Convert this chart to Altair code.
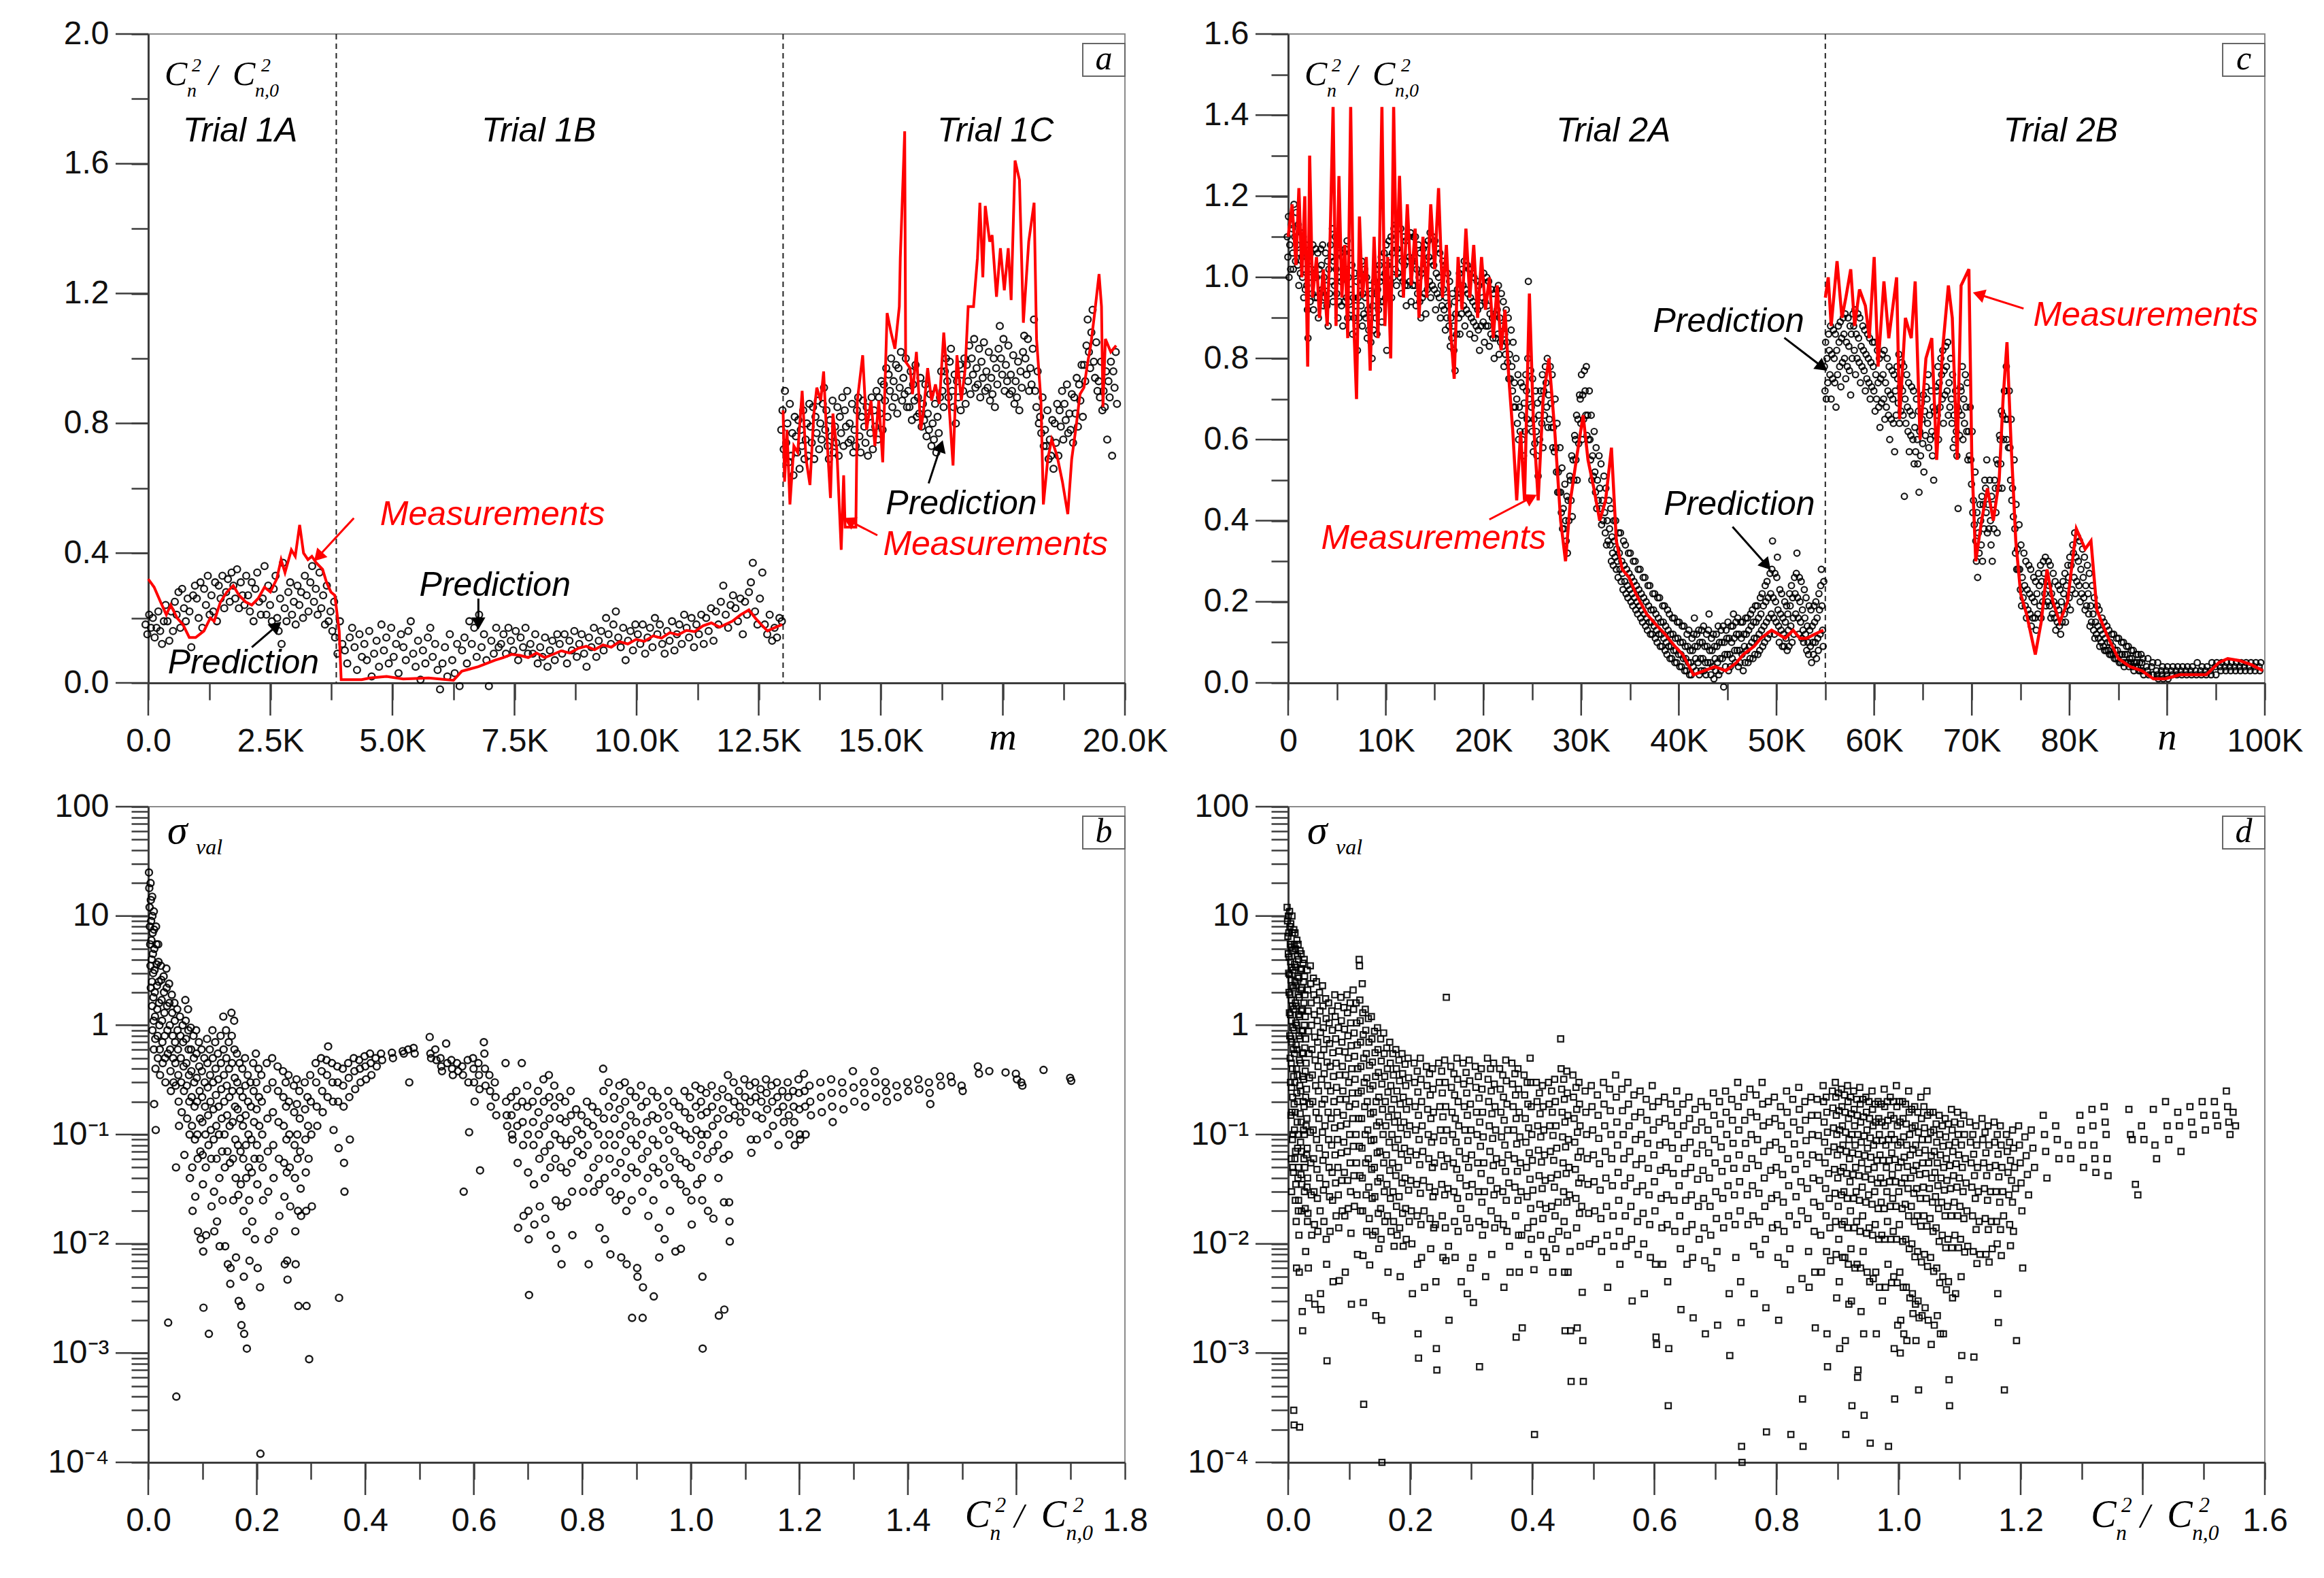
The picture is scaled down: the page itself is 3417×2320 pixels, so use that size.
import math
import pandas as pd
import altair as alt

# ---------------- panel a: Trial 1A / 1B / 1C (m = sample index) ----------------
meas_1ab = [(0, .32), (120, .295), (250, .25), (370, .21), (460, .24), (590, .20), (710, .18),
            (840, .14), (970, .14), (1140, .16), (1270, .20), (1350, .19), (1480, .25), (1610, .28),
            (1740, .30), (1860, .27), (1990, .25), (2120, .24), (2250, .26), (2380, .295), (2500, .28),
            (2630, .32), (2720, .38), (2800, .34), (2930, .41), (3010, .39), (3100, .487), (3180, .40),
            (3270, .38), (3350, .39), (3440, .37), (3570, .35), (3650, .31), (3740, .28), (3820, .27),
            (3910, .16), (3950, .01), (4370, .01), (4540, .015), (4880, .02), (5220, .012), (5740, .015),
            (6250, .008), (6420, .036), (6590, .043), (6760, .05), (6930, .06), (7100, .07), (7270, .078),
            (7440, .088), (7610, .085), (7780, .078), (7950, .092), (8120, .078), (8290, .088), (8460, .099),
            (8630, .092), (8800, .106), (8970, .113), (9140, .102), (9310, .117), (9480, .11), (9650, .127),
            (9820, .12), (9990, .134), (10160, .128), (10340, .145), (10510, .138), (10680, .155),
            (10850, .148), (11020, .162), (11190, .158), (11360, .176), (11530, .185), (11700, .172),
            (11960, .19), (12130, .21), (12300, .225), (12430, .20), (12550, .18), (12680, .16),
            (12810, .169), (12980, .18)]
meas_1c = [(13000, .84), (13030, .62), (13080, .78), (13140, .55), (13220, .73), (13300, .71), (13390, .90),
           (13470, .69), (13550, .61), (13630, .83), (13690, .91), (13770, .87), (13830, .96), (13880, .80),
           (13970, .57), (14020, .83), (14100, .72), (14190, .41), (14240, .64), (14270, .48), (14490, .48),
           (14520, .87), (14630, 1.01), (14710, .78), (14800, .87), (14880, .73), (14960, .87), (15040, .68),
           (15130, 1.14), (15210, 1.08), (15290, 1.03), (15380, 1.16), (15400, 1.31), (15490, 1.70),
           (15510, .99), (15600, .97), (15650, .89), (15730, 1.02), (15820, .78), (15870, .83), (15960, .97),
           (16040, .87), (16120, .92), (16200, .86), (16290, 1.08), (16370, .92), (16480, .67), (16560, 1.01),
           (16650, .87), (16730, .97), (16790, 1.16), (16900, 1.16), (16980, 1.31), (17030, 1.48),
           (17090, 1.25), (17140, 1.47), (17230, 1.36), (17280, 1.38), (17370, 1.19), (17450, 1.34),
           (17530, 1.21), (17610, 1.34), (17670, 1.18), (17750, 1.61), (17840, 1.55), (17920, 1.11),
           (18030, 1.36), (18140, 1.48), (18190, 1.06), (18280, .87), (18330, .55), (18420, .69), (18500, .75),
           (18610, .70), (18720, .62), (18830, .52), (18910, .69), (19000, .79), (19080, .89), (19160, .91),
           (19240, .99), (19300, 1.04), (19380, 1.14), (19470, 1.26), (19520, 1.16), (19550, .85),
           (19600, 1.06), (19710, 1.02), (19820, 1.04)]
pred_1a = [(0, [.18, .15, .21, .17]), (150, [.20, .14, .17, .22]), (300, [.16, .12, .19, .24]),
           (450, [.19, .13, .22, .16]), (600, [.25, .21, .28, .17]), (750, [.29, .23, .19, .26]),
           (900, [.22, .11, .27, .30]), (1050, [.26, .20, .31, .17]), (1200, [.29, .24, .33, .21]),
           (1350, [.27, .22, .31, .19]), (1500, [.30, .26, .33, .23]), (1650, [.28, .32, .25, .34]),
           (1800, [.30, .26, .35, .23]), (1950, [.31, .27, .24, .33]), (2100, [.27, .22, .31, .19]),
           (2250, [.29, .34, .25, .21]), (2400, [.26, .36, .21, .30]), (2550, [.24, .19, .29, .33]),
           (2700, [.20, .16, .26, .12, .37]), (2850, [.23, .19, .28, .31]), (3000, [.21, .25, .18, .30]),
           (3150, [.24, .28, .20, .33]), (3300, [.27, .22, .31, .36]), (3450, [.25, .29, .21, .34]),
           (3600, [.23, .27, .18, .30]), (3750, [.19, .22, .16, .25])]
pred_1b = [(3900, [.14, .09, .19, .12]), (4100, [.10, .06, .14, .17]), (4300, [.11, .04, .15, .08]),
           (4500, [.12, .07, .16, .02]), (4700, [.09, .13, .05, .18]), (4900, [.10, .14, .06, .17]),
           (5100, [.08, .12, .03, .15]), (5300, [.11, .07, .16, .19]), (5500, [.09, .05, .13, .01]),
           (5700, [.10, .06, .14, .17]), (5900, [.08, .12, .04, -.02]), (6100, [.06, .11, .02, .15]),
           (6300, [.07, .03, .12, -.01]), (6500, [.10, .14, .06, .19]), (6700, [.12, .17, .08, .21]),
           (6900, [.11, .15, .07, -.01]), (7100, [.13, .09, .17, .11]), (7300, [.12, .15, .09, .17]),
           (7500, [.13, .10, .16, .07]), (7700, [.14, .11, .17, .09]), (7900, [.12, .09, .15, .06]),
           (8100, [.11, .08, .14, .05]), (8300, [.10, .13, .07, .15]), (8500, [.12, .09, .15, .06]),
           (8700, [.13, .10, .16, .08]), (8900, [.12, .15, .09, .05]), (9100, [.14, .11, .17, .08]),
           (9300, [.13, .16, .10, .20]), (9500, [.15, .12, .18, .22]), (9700, [.14, .11, .17, .07]),
           (9900, [.13, .16, .10, .18]), (10100, [.15, .12, .18, .09]), (10300, [.14, .17, .11, .20]),
           (10500, [.15, .18, .12, .09]), (10700, [.16, .13, .19, .10]), (10900, [.15, .18, .12, .21]),
           (11100, [.17, .14, .20, .11]), (11300, [.18, .15, .21, .12]), (11500, [.20, .16, .23, .13]),
           (11700, [.22, .18, .25, .30]), (11900, [.21, .17, .24, .27]), (12100, [.23, .19, .26, .15]),
           (12300, [.25, .21, .28, .31, .37]), (12500, [.22, .18, .26, .34]), (12700, [.18, .15, .21, .13]),
           (12900, [.17, .14, .20, .19])]
pred_1c = [(13000, [.78, .84, .72, .90]), (13100, [.74, .80, .68, .86]), (13200, [.70, .77, .64, .82]),
           (13300, [.76, .71, .81, .66]), (13400, [.78, .73, .84, .69]), (13500, [.75, .80, .70, .86]),
           (13600, [.79, .74, .85, .69]), (13700, [.82, .77, .87, .72]), (13800, [.80, .75, .86, .91]),
           (13900, [.78, .84, .73, .69]), (14000, [.81, .76, .87, .71]), (14100, [.79, .74, .85, .70]),
           (14200, [.82, .77, .88, .73]), (14300, [.84, .79, .90, .74]), (14400, [.80, .75, .86, .71]),
           (14500, [.78, .73, .84, .88]), (14600, [.76, .71, .82, .87]), (14700, [.79, .74, .85, .70]),
           (14800, [.82, .77, .88, .72]), (14900, [.84, .79, .90, .75]), (15000, [.88, .83, .93, .78]),
           (15100, [.92, .87, .97, .82]), (15200, [.95, .90, 1.00, .85]), (15300, [.93, .88, .98, .83]),
           (15400, [.97, .91, 1.02, .87]), (15500, [.94, .89, 1.00, .85]), (15600, [.90, .85, .96, .81]),
           (15700, [.92, .87, .98, .82]), (15800, [.88, .83, .94, .79]), (15900, [.86, .81, .92, .76]),
           (16000, [.83, .78, .89, .73]), (16100, [.80, .75, .86, .71]), (16200, [.82, .77, .88, .96]),
           (16300, [.90, .85, .96, 1.00]), (16400, [.93, .88, .99, 1.03]), (16500, [.90, .85, .95, .80]),
           (16600, [.93, .88, .98, .84]), (16700, [.95, .90, 1.00, .86]), (16800, [.98, .93, 1.04, .89]),
           (16900, [1.00, .95, 1.06, .91]), (17000, [.97, .92, 1.03, .88]), (17100, [.99, .94, 1.05, .90]),
           (17200, [.96, .91, 1.02, .87]), (17300, [.94, .89, 1.00, .85]), (17400, [.97, .92, 1.03, 1.10]),
           (17500, [1.00, .95, 1.06, .90]), (17600, [.98, .93, 1.04, .89]), (17700, [.95, .90, 1.01, .86]),
           (17800, [.93, .88, .99, .84]), (17900, [.96, .91, 1.02, 1.07]), (18000, [1.00, .95, 1.06, .90]),
           (18100, [.97, .92, 1.03, 1.12]), (18200, [.90, .85, .96, .80]), (18300, [.82, .77, .88, .73]),
           (18400, [.78, .73, .84, .69]), (18500, [.75, .70, .81, .66]), (18600, [.80, .74, .86, .70]),
           (18700, [.84, .79, .90, .75]), (18800, [.86, .81, .92, .77]), (18900, [.83, .78, .89, .74]),
           (19000, [.88, .83, .94, .79]), (19100, [.92, .87, .98, .82]), (19200, [.98, .93, 1.04, 1.12]),
           (19300, [1.02, .97, 1.08, 1.15]), (19400, [.99, .94, 1.05, .90]), (19500, [.93, .88, .99, .84]),
           (19600, [.90, .85, .96, .75]), (19700, [.93, .88, .99, .70]), (19800, [.96, .91, 1.02, .86])]
trial1_edges = [3850, 13000]

# ---------------- panel c: Trial 2A / 2B (n = sample index) ----------------
meas_2a = [(0, 1.10), (400, 1.18), (800, 1.03), (1100, 1.22), (1400, 1.00), (1700, 1.20), (2000, .78),
           (2200, 1.30), (2500, .95), (2900, 1.05), (3200, .90), (3600, 1.02), (4000, .88), (4300, 1.10),
           (4600, 1.42), (4900, .88), (5200, 1.25), (5500, .95), (5800, 1.08), (6100, .85), (6400, 1.42),
           (6700, .90), (7000, .70), (7300, 1.15), (7600, .95), (8000, 1.05), (8400, .77), (8800, 1.10),
           (9200, .85), (9600, 1.42), (9900, .88), (10200, 1.05), (10500, .80), (10800, 1.42), (11100, 1.00),
           (11400, 1.25), (11800, .95), (12200, 1.18), (12600, .98), (13000, 1.12), (13400, .90),
           (13800, 1.10), (14200, .95), (14600, 1.18), (15000, 1.02), (15400, 1.22), (15800, .95),
           (16200, 1.08), (16600, .88), (17000, .75), (17400, 1.05), (17800, .92), (18200, 1.12),
           (18600, .95), (19000, 1.08), (19400, .90), (19800, 1.05), (20200, .92), (20600, 1.00),
           (21000, .85), (21400, .98), (21800, .82), (22200, .92), (22600, .75), (23000, .62), (23400, .45),
           (23800, .62), (24200, .45), (24700, .96), (25100, .65), (25600, .45), (26100, .70), (26700, .80),
           (27300, .62), (27900, .40), (28400, .30), (28900, .45), (29500, .55), (30200, .66), (30700, .55),
           (31300, .48), (31900, .40), (32500, .45), (33100, .58), (33600, .35), (34200, .28), (34900, .26),
           (35600, .22), (36700, .17), (37800, .14), (38600, .12), (39600, .09), (40400, .07), (41500, .02),
           (42600, .03), (43700, .04), (44800, .03), (45900, .05), (46600, .07), (47700, .09), (48400, .11),
           (49500, .13), (50200, .12), (50900, .11), (51700, .13), (52400, .11), (53100, .11), (53900, .12),
           (54800, .13)]
meas_2b = [(55000, .95), (55300, 1.00), (55600, .88), (56200, 1.04), (56700, .90), (57100, .95),
           (57600, 1.02), (58000, .88), (58500, .97), (59100, .93), (59500, .85), (60000, 1.05), (60400, .78),
           (61000, .99), (61500, .85), (62300, 1.00), (62600, .65), (63200, .90), (63800, .85), (64200, .99),
           (64700, .60), (65300, .80), (65900, .85), (66400, .55), (67000, .82), (67600, .98), (68000, .90),
           (68500, .55), (68900, .98), (69700, 1.02), (70000, .55), (70400, .30), (71000, .40), (71600, .48),
           (72200, .40), (72800, .50), (73200, .70), (73600, .84), (74000, .60), (74500, .35), (75000, .22),
           (75600, .17), (76500, .07), (77100, .15), (77700, .28), (78300, .20), (79000, .15), (79800, .20),
           (80700, .38), (81600, .33), (82200, .35), (82800, .18), (83800, .12), (85000, .06), (86200, .04),
           (87400, .03), (88600, .01), (89800, .01), (91300, .02), (92800, .02), (94000, .02), (95300, .05),
           (96200, .06), (97400, .055), (98600, .045), (99800, .03)]
pred_2a = [(0, [1.10, 1.05, 1.15, 1.00]), (500, [1.12, 1.06, 1.02, 1.18]), (1000, [1.08, 1.03, 1.13, .98]),
           (1500, [1.05, 1.00, 1.10, .95]), (2000, [.98, .92, .85, 1.04]), (2500, [1.02, .96, 1.08, .92]),
           (3000, [1.00, .95, 1.06, .90]), (3500, [1.03, .97, 1.08, .93]), (4000, [.98, .93, 1.04, .88]),
           (4500, [1.05, .99, 1.12, .94]), (5000, [1.02, .96, 1.08, .90]), (5500, [.99, .93, 1.05, .88]),
           (6000, [1.02, .95, 1.09, .90]), (6500, [.97, .92, 1.03, .86]), (7000, [.93, .88, .99, .82]),
           (7500, [.98, .93, 1.04, .88]), (8000, [.95, .90, 1.00, .85]), (8500, [.90, .84, .96, .80]),
           (9000, [.96, .90, 1.02, .86]), (9500, [.99, .94, 1.05, .89]), (10000, [1.01, .95, 1.08, .82]),
           (10500, [1.05, .99, 1.10, .95]), (11000, [1.08, 1.02, 1.13, .98]), (11500, [1.06, 1.00, 1.12, .96]),
           (12000, [1.03, .98, 1.09, .93]), (12500, [1.05, .99, 1.11, .94]), (13000, [1.04, .98, 1.10, .93]),
           (13500, [1.00, .94, 1.06, .90]), (14000, [1.02, .96, 1.08, .91]), (14500, [1.05, .99, 1.11, .95]),
           (15000, [1.03, .97, 1.09, .92]), (15500, [1.00, .95, 1.06, .90]), (16000, [.97, .92, 1.03, .87]),
           (16500, [.93, .88, .99, .83]), (17000, [.88, .82, .94, .77]), (17500, [.95, .90, 1.01, .86]),
           (18000, [.98, .93, 1.04, .88]), (18500, [.96, .91, 1.02, .86]), (19000, [.94, .89, 1.00, .85]),
           (19500, [.92, .87, .98, .82]), (20000, [.95, .89, 1.01, .84]), (20500, [.93, .88, .99, .83]),
           (21000, [.90, .85, .96, .80]), (21500, [.92, .86, .98, .81]), (22000, [.88, .83, .94, .78]),
           (22500, [.84, .79, .90, .75]), (23000, [.78, .72, .84, .68]), (23500, [.70, .64, .76, .60]),
           (24000, [.66, .60, .73, .56]), (24500, [.72, .65, .80, .99]), (25000, [.68, .62, .75, .57]),
           (25500, [.62, .56, .69, .51]), (26000, [.70, .64, .76, .58]), (26500, [.74, .68, .80, .63]),
           (27000, [.69, .63, .76, .58]), (27500, [.58, .52, .64, .47]), (28000, [.47, .42, .53, .38]),
           (28500, [.40, .35, .46, .32]), (29000, [.50, .45, .56, .41]), (29500, [.60, .55, .66, .50]),
           (30000, [.70, .64, .76, .60]), (30500, [.72, .66, .78, .61]), (31000, [.60, .55, .66, .50]),
           (31500, [.52, .47, .58, .43]), (32000, [.48, .43, .54, .39]), (32500, [.42, .37, .48, .34]),
           (33000, [.38, .34, .43, .30]), (33500, [.35, .31, .40, .28]), (34000, [.32, .28, .37, .25]),
           (34500, [.29, .25, .34, .22]), (35000, [.27, .23, .32, .20]), (35500, [.25, .21, .30, .18]),
           (36000, [.23, .19, .28, .16]), (36500, [.21, .17, .26, .14]), (37000, [.19, .15, .24, .12]),
           (37500, [.18, .14, .22, .11]), (38000, [.16, .12, .21, .09]), (38500, [.15, .11, .19, .08]),
           (39000, [.13, .09, .17, .06]), (39500, [.12, .08, .16, .05]), (40000, [.11, .07, .15, .04]),
           (40500, [.10, .06, .14, .03]), (41000, [.09, .05, .13, .02]), (41500, [.08, .04, .12, .16]),
           (42000, [.09, .05, .13, .02]), (42500, [.10, .06, .14, .03]), (43000, [.09, .05, .13, .17]),
           (43500, [.08, .04, .12, .01]), (44000, [.09, .05, .14, .02]), (44500, [.10, .06, .14, -.01]),
           (45000, [.11, .07, .15, .03]), (45500, [.10, .06, .14, .17]), (46000, [.12, .08, .16, .04]),
           (46500, [.11, .07, .15, .03]), (47000, [.12, .08, .16, .05]), (47500, [.14, .10, .18, .06]),
           (48000, [.15, .11, .19, .07]), (48500, [.17, .13, .22, .09]), (49000, [.20, .15, .25, .11]),
           (49500, [.22, .17, .28, .35]), (50000, [.20, .15, .26, .31]), (50500, [.17, .13, .22, .09]),
           (51000, [.15, .11, .19, .08]), (51500, [.19, .14, .24, .10]), (52000, [.22, .17, .27, .32]),
           (52500, [.20, .15, .25, .11]), (53000, [.16, .12, .21, .08]), (53500, [.13, .09, .18, .05]),
           (54000, [.15, .10, .20, .06]), (54500, [.18, .12, .24, .28])]
pred_2a_fill = [(250, [1.08, 1.02, 1.13]), (750, [1.10, 1.04, 1.16]), (1250, [1.06, 1.01, 1.11]),
                (1750, [1.02, .97, 1.08]), (2250, [1.00, .94, 1.06]), (2750, [1.01, .95, 1.07]),
                (3250, [1.02, .96, 1.07]), (3750, [1.00, .95, 1.06]), (4250, [1.02, .96, 1.08]),
                (4750, [1.04, .98, 1.10]), (5250, [1.00, .94, 1.06]), (5750, [1.00, .94, 1.07]),
                (6250, [1.00, .94, 1.06]), (6750, [.95, .90, 1.01]), (7250, [.95, .90, 1.01]),
                (7750, [.96, .91, 1.02]), (8250, [.92, .87, .98]), (8750, [.93, .87, .99]),
                (9250, [.97, .92, 1.03]), (9750, [1.00, .94, 1.06]), (10250, [1.03, .97, 1.09]),
                (10750, [1.06, 1.00, 1.12]), (11250, [1.07, 1.01, 1.12]), (11750, [1.04, .99, 1.10]),
                (12250, [1.04, .98, 1.10]), (12750, [1.04, .98, 1.10]), (13250, [1.02, .96, 1.08]),
                (13750, [1.01, .95, 1.07]), (14250, [1.03, .97, 1.09]), (14750, [1.04, .98, 1.10]),
                (15250, [1.01, .96, 1.07]), (15750, [.98, .93, 1.04]), (16250, [.95, .90, 1.01]),
                (16750, [.90, .85, .96]), (17250, [.91, .86, .97]), (17750, [.96, .91, 1.02]),
                (18250, [.97, .92, 1.03]), (18750, [.95, .90, 1.01]), (19250, [.93, .88, .99]),
                (19750, [.93, .88, .99]), (20250, [.94, .88, 1.00]), (20750, [.91, .86, .97]),
                (21250, [.91, .85, .97]), (21750, [.90, .84, .96]), (22250, [.86, .81, .92]),
                (22750, [.81, .75, .87]), (23250, [.74, .68, .80]), (23750, [.68, .62, .74]),
                (24250, [.69, .62, .76]), (24750, [.70, .64, .77]), (25250, [.65, .59, .72]),
                (25750, [.66, .60, .72]), (26250, [.72, .66, .78]), (26750, [.71, .65, .78]),
                (27250, [.63, .57, .70]), (27750, [.52, .47, .58]), (28250, [.43, .38, .49]),
                (28750, [.45, .40, .51]), (29250, [.55, .50, .61]), (29750, [.65, .59, .71]),
                (30250, [.71, .65, .77]), (30750, [.66, .60, .72]), (31250, [.56, .51, .62]),
                (31750, [.50, .45, .56]), (32250, [.45, .40, .51]), (32750, [.40, .35, .45]),
                (33250, [.36, .32, .29, .40]), (33750, [.33, .30, .26, .37]), (34250, [.30, .27, .23, .35]),
                (34750, [.28, .24, .21, .32]), (35250, [.26, .22, .19, .30]), (35750, [.24, .20, .17, .28]),
                (36250, [.22, .18, .15, .26]), (36750, [.20, .16, .13, .24]), (37250, [.18, .15, .12, .22]),
                (37750, [.17, .13, .10, .21]), (38250, [.15, .12, .09, .19]), (38750, [.14, .10, .07, .18]),
                (39250, [.12, .09, .06, .16]), (39750, [.11, .08, .05, .15]), (40250, [.10, .07, .04, .14]),
                (40750, [.09, .06, .03, .12]), (41250, [.08, .05, .02, .11]), (41750, [.09, .06, .03, .12]),
                (42250, [.10, .06, .03, .13]), (42750, [.09, .05, .02, .12]), (43250, [.08, .05, .02, .11]),
                (43750, [.09, .06, .03, .12]), (44250, [.10, .06, .03, .13]), (44750, [.10, .07, .04, .13]),
                (45250, [.11, .07, .04, .14]), (45750, [.11, .08, .05, .15]), (46250, [.12, .08, .05, .15]),
                (46750, [.12, .09, .05, .16]), (47250, [.13, .09, .06, .17]), (47750, [.15, .11, .07, .19]),
                (48250, [.16, .12, .08, .21]), (48750, [.19, .14, .10, .24]), (49250, [.21, .16, .12, .27]),
                (49750, [.21, .16, .12, .27]), (50250, [.18, .14, .10, .23]), (50750, [.16, .12, .09, .20]),
                (51250, [.17, .13, .09, .22]), (51750, [.21, .16, .12, .26]), (52250, [.21, .16, .12, .26]),
                (52750, [.18, .13, .10, .23]), (53250, [.14, .10, .07, .19]), (53750, [.14, .10, .07, .19]),
                (54250, [.16, .11, .08, .22]), (54750, [.19, .13, .09, .25])]
pred_2b = [(55000, [.78, .72, .84, .70]), (55500, [.82, .76, .88, .70]), (56000, [.80, .74, .86, .68]),
           (56500, [.84, .78, .89, .73]), (57000, [.86, .80, .91, .75]), (57500, [.83, .77, .88, .71]),
           (58000, [.88, .82, .92, .76]), (58500, [.85, .79, .90, .74]), (59000, [.82, .77, .87, .72]),
           (59500, [.80, .74, .85, .70]), (60000, [.78, .72, .84, .67]), (60500, [.74, .68, .80, .63]),
           (61000, [.76, .70, .82, .65]), (61500, [.72, .66, .78, .60]), (62000, [.70, .64, .76, .57]),
           (62500, [.75, .69, .81, .64]), (63000, [.72, .66, .78, .46]), (63500, [.68, .62, .74, .57]),
           (64000, [.66, .60, .72, .54]), (64500, [.60, .54, .67, .47]), (65000, [.65, .59, .71, .52]),
           (65500, [.70, .64, .76, .58]), (66000, [.62, .56, .68, .50]), (66500, [.72, .66, .78, .60]),
           (67000, [.76, .70, .82, .64]), (67500, [.78, .72, .84, .66]), (68000, [.70, .64, .76, .58]),
           (68500, [.62, .56, .68, .43]), (69000, [.72, .66, .78, .60]), (69500, [.68, .62, .74, .55]),
           (70000, [.55, .49, .62, .42]), (70500, [.35, .30, .42, .26]), (71000, [.40, .34, .46, .30]),
           (71500, [.48, .42, .55, .37]), (72000, [.40, .34, .46, .30]), (72500, [.48, .42, .55, .37]),
           (73000, [.60, .54, .67, .48]), (73500, [.72, .65, .78, .60]), (74000, [.58, .50, .65, .45]),
           (74500, [.38, .32, .44, .28]), (75000, [.28, .23, .34, .19]), (75500, [.24, .19, .30, .16]),
           (76000, [.22, .17, .28, .14]), (76500, [.20, .16, .25, .13]), (77000, [.24, .19, .29, .16]),
           (77500, [.27, .22, .31, .19]), (78000, [.24, .19, .29, .16]), (78500, [.20, .16, .25, .13]),
           (79000, [.18, .14, .23, .12]), (79500, [.22, .17, .27, .15]), (80000, [.26, .21, .31, .18]),
           (80500, [.32, .26, .37, .22]), (81000, [.30, .24, .35, .20]), (81500, [.26, .21, .31, .18]),
           (82000, [.22, .17, .27, .14]), (82500, [.17, .13, .21, .11]), (83000, [.14, .11, .18, .09]),
           (83500, [.12, .09, .15, .08]), (84000, [.10, .08, .13, .07]), (84500, [.09, .07, .12, .06]),
           (85000, [.08, .06, .11, .05]), (85500, [.07, .05, .10, .04]), (86000, [.07, .05, .09, .04]),
           (86500, [.06, .04, .08, .03]), (87000, [.05, .04, .07, .03]), (87500, [.05, .03, .06, .02]),
           (88000, [.04, .03, .06, .02]), (88500, [.04, .02, .05, .02]), (89000, [.03, .02, .05, .01]),
           (89500, [.03, .02, .04, .01]), (90000, [.03, .02, .04, .01]), (90500, [.03, .02, .04]),
           (91000, [.03, .02, .04]), (91500, [.03, .02, .04]), (92000, [.03, .02, .04]), (92500, [.03, .02, .04]),
           (93000, [.03, .02, .05]), (93500, [.03, .02, .04]), (94000, [.03, .02, .04]), (94500, [.03, .02, .05]),
           (95000, [.04, .02, .05]), (95500, [.04, .03, .05]), (96000, [.04, .03, .05]), (96500, [.04, .03, .05]),
           (97000, [.04, .03, .05]), (97500, [.04, .03, .05]), (98000, [.04, .03, .05]), (98500, [.04, .03, .05]),
           (99000, [.04, .03, .05]), (99500, [.04, .03, .05])]
pred_2b_fill = [(55250, [.80, .74, .86]), (55750, [.81, .75, .87]), (56250, [.82, .76, .88]),
                (56750, [.85, .79, .90]), (57250, [.84, .78, .90]), (57750, [.86, .80, .91]),
                (58250, [.86, .80, .91]), (58750, [.83, .78, .88]), (59250, [.81, .75, .86]),
                (59750, [.79, .73, .84]), (60250, [.76, .70, .82]), (60750, [.75, .69, .81]),
                (61250, [.74, .68, .80]), (61750, [.71, .65, .77]), (62250, [.72, .66, .78]),
                (62750, [.73, .67, .79]), (63250, [.70, .64, .76]), (63750, [.67, .61, .73]),
                (64250, [.63, .57, .70]), (64750, [.62, .56, .69]), (65250, [.67, .61, .73]),
                (65750, [.66, .60, .72]), (66250, [.67, .61, .73]), (66750, [.74, .68, .80]),
                (67250, [.77, .71, .83]), (67750, [.74, .68, .80]), (68250, [.66, .60, .72]),
                (68750, [.67, .61, .73]), (69250, [.70, .64, .76]), (69750, [.62, .56, .68]),
                (70250, [.45, .39, .52]), (70750, [.37, .32, .44]), (71250, [.44, .38, .50]),
                (71750, [.44, .38, .50]), (72250, [.44, .38, .50]), (72750, [.54, .48, .61]),
                (73250, [.66, .60, .72]), (73750, [.65, .58, .72]), (74250, [.48, .41, .55]),
                (74750, [.33, .28, .39]), (75250, [.26, .21, .32]), (75750, [.23, .18, .29]),
                (76250, [.21, .16, .26]), (76750, [.22, .17, .27]), (77250, [.25, .20, .30]),
                (77750, [.25, .20, .30]), (78250, [.22, .17, .27]), (78750, [.19, .15, .24]),
                (79250, [.20, .15, .25]), (79750, [.24, .19, .29]), (80250, [.29, .23, .34]),
                (80750, [.31, .25, .36]), (81250, [.28, .22, .33]), (81750, [.24, .19, .29]),
                (82250, [.19, .15, .24]), (82750, [.15, .12, .19]), (83250, [.13, .10, .16]),
                (83750, [.11, .08, .14]), (84250, [.10, .07, .12]), (84750, [.08, .06, .11]),
                (85250, [.07, .05, .10]), (85750, [.07, .05, .09]), (86250, [.06, .05, .08]),
                (86750, [.05, .04, .07]), (87250, [.05, .03, .07])]
trial2_edges = [55000]

# ---------------- panel b: sigma_val vs Cn2/Cn0^2, trial 1 ----------------
sigma_b = [(0.003, [25, 18, 12, 8, 5.5, 3.5, 2.2]), (0.006, [20, 14, 9, 6, 4, 2.5, 1.5, .9]),
           (0.009, [15, 10, 7, 4.5, 3, 1.8, 1.1, .6, .19]), (0.012, [11, 7.5, 5, 3.2, 2, 1.2, .75, .4, .11]),
           (0.016, [8, 5.5, 3.6, 2.3, 1.4, .8, .5]), (0.02, [5.5, 3.8, 2.5, 1.6, 1, .6, .35]),
           (0.025, [3.5, 2.6, 1.7, 1.1, .7, .45]), (0.03, [2.8, 2, 1.3, .8, .5, .3]),
           (0.035, [3.3, 2.2, 1.5, .9, .55, .0019]), (0.04, [2.4, 1.6, 1.0, .6, .38, .25]),
           (0.045, [1.9, 1.3, .8, .5, .3]), (0.05, [1.6, 1.1, .7, .45, .28, .05, .0004]),
           (0.055, [1.4, .9, .6, .35, .2, .12]), (0.06, [1.2, .8, .5, .3, .16]),
           (0.065, [1.0, .7, .42, .25, .065]), (0.07, [1.7, 1.1, .75, .45, .28, .14]),
           (0.075, [1.4, .9, .6, .35, .2, .1, .04]), (0.08, [.95, .6, .38, .22, .12, .05, .02]),
           (0.085, [.8, .5, .3, .18, .09, .027]), (0.09, [.9, .55, .33, .2, .1, .06, .013]),
           (0.095, [.7, .42, .25, .14, .07, .011]), (0.1, [.6, .38, .22, .13, .065, .035, .0085, .0026]),
           (0.105, [.5, .3, .18, .1, .05, .012]), (0.11, [.75, .45, .27, .15, .08, .0015]),
           (0.115, [.6, .35, .2, .11, .06, .022]), (0.12, [.9, .5, .3, .17, .09, .03, .013]),
           (0.125, [.7, .4, .23, .12, .06, .016]), (0.13, [.55, .32, .18, .1, .04, .0095]),
           (0.135, [.8, .45, .26, .14, .07, .025]), (0.14, [1.2, .6, .35, .2, .1, .05, .0095]),
           (0.145, [.9, .5, .28, .15, .07, .0065]), (0.15, [.7, .4, .22, .12, .055, .0043, .006]),
           (0.155, [1.3, .8, .45, .25, .13, .06, .025]), (0.16, [1.1, .6, .33, .18, .09, .04, .0075]),
           (0.165, [.55, .3, .17, .08, .028, .003]), (0.17, [.45, .25, .14, .07, .035, .0027, .0018]),
           (0.175, [.4, .22, .12, .06, .02, .005, .0015]), (0.18, [.5, .28, .15, .08, .04, .013, .0011]),
           (0.185, [.35, .2, .1, .05, .025, .007]), (0.19, [.3, .18, .09, .045, .016]),
           (0.195, [.45, .25, .13, .06, .011]), (0.2, [.55, .3, .17, .08, .035, .006]),
           (0.205, [.4, .22, .12, .06, .004, .00012]), (0.21, [.35, .2, .1, .05, .025]),
           (0.22, [.45, .26, .14, .07, .03, .011]), (0.23, [.5, .3, .16, .08, .04, .013]),
           (0.24, [.42, .25, .13, .06, .018]), (0.25, [.38, .22, .12, .055, .027, .0065]),
           (0.255, [.3, .18, .09, .045, .007, .0047]), (0.26, [.35, .2, .1, .05, .022]),
           (0.27, [.28, .16, .08, .04, .013, .0065]), (0.275, [.32, .19, .1, .06, .02, .0027]),
           (0.28, [.25, .14, .07, .032, .018]), (0.29, [.3, .17, .09, .045, .02, .0027]),
           (0.295, [.22, .12, .06, .00088]), (0.3, [.35, .2, .1, .022]), (0.31, [.45, .3, .18, .12]),
           (0.32, [.5, .38, .25, .16]), (0.33, [.48, .35, .22, .64]), (0.34, [.45, .3, .2, .11]),
           (0.35, [.42, .3, .2, .075, .0032]), (0.36, [.4, .28, .18, .055, .03]), (0.37, [.45, .33, .22, .09]),
           (0.38, [.5, .38, .26]), (0.39, [.48, .4, .3]), (0.4, [.52, .42, .32]), (0.41, [.55, .45, .35]),
           (0.42, [.5, .42]), (0.43, [.55, .48]), (0.45, [.56, .5]), (0.47, [.58, .55]), (0.48, [.6, .3]),
           (0.49, [.62, .55]), (0.52, [.78, .55, .5]), (0.53, [.6, .48]), (0.54, [.5, .42, .38]),
           (0.55, [.68, .45]), (0.56, [.48, .4, .35]), (0.57, [.45, .38]), (0.58, [.42, .35, .03]),
           (0.59, [.48, .3, .105]), (0.6, [.5, .4, .3, .2]), (0.61, [.45, .35, .26, .047]),
           (0.62, [.7, .55, .4, .28]), (0.63, [.35, .25, .18]), (0.64, [.3, .22, .15]),
           (0.66, [.45, .2, .15, .12]), (0.67, [.22, .15, .1, .09]), (0.68, [.25, .18, .12, .055, .014]),
           (0.69, [.45, .2, .13, .08, .018]), (0.7, [.28, .18, .1, .045, .02, .011, .0034]),
           (0.71, [.2, .13, .08, .035, .015]), (0.72, [.25, .16, .1, .06, .022]),
           (0.73, [.32, .2, .12, .07, .04, .017]), (0.74, [.35, .22, .14, .08, .05, .012]),
           (0.75, [.28, .18, .1, .06, .025, .009]), (0.76, [.22, .14, .09, .05, .022, .0065]),
           (0.77, [.2, .13, .08, .045, .024]), (0.78, [.25, .15, .09, .055, .03, .012]),
           (0.79, [.17, .11, .07]), (0.8, [.15, .1, .065, .03]), (0.81, [.2, .13, .08, .04, .0065]),
           (0.82, [.18, .12, .05, .03]), (0.83, [.16, .1, .06, .035, .014]),
           (0.84, [.4, .25, .14, .08, .04, .011]), (0.85, [.3, .18, .1, .06, .03, .008]),
           (0.86, [.22, .14, .08, .045, .025]), (0.87, [.28, .17, .1, .055, .028, .0075]),
           (0.88, [.3, .2, .12, .07, .04, .02, .0065]), (0.89, [.25, .15, .09, .05, .025, .0021]),
           (0.9, [.22, .13, .08, .045, .006, .005]), (0.91, [.28, .18, .1, .06, .03, .0021, .004]),
           (0.92, [.2, .13, .07, .04, .018]), (0.93, [.25, .15, .09, .05, .025, .0033]),
           (0.94, [.22, .14, .08, .045, .014, .0075]), (0.95, [.18, .11, .06, .035, .011]),
           (0.96, [.25, .15, .09, .05, .02]), (0.97, [.2, .12, .07, .04, .0085]),
           (0.98, [.18, .11, .06, .035, .009]), (0.99, [.25, .16, .1, .055, .03]),
           (1.0, [.22, .14, .09, .05, .025, .015]), (1.01, [.28, .18, .11, .065, .035]),
           (1.02, [.26, .2, .15, .1, .08, .04, .025, .005, .0011]), (1.03, [.24, .16, .1, .06, .02]),
           (1.04, [.28, .18, .12, .07, .017]), (1.05, [.22, .14, .08, .04, .0022]),
           (1.06, [.26, .17, .1, .06, .024, .0025]), (1.07, [.35, .22, .14, .065, .024, .016, .0105]),
           (1.08, [.3, .2, .15]), (1.09, [.25, .18, .13]), (1.1, [.32, .22, .16]), (1.11, [.28, .2, .09, .068]),
           (1.12, [.3, .22, .15, .09]), (1.13, [.26, .2, .14]), (1.14, [.32, .24, .17, .1]),
           (1.15, [.28, .2, .12]), (1.16, [.3, .22, .16, .08]), (1.17, [.25, .18, .13]),
           (1.18, [.3, .22, .15, .1]), (1.19, [.25, .18, .13, .08]), (1.2, [.32, .24, .17, .1, .09]),
           (1.21, [.36, .25, .18, .1]), (1.22, [.28, .2, .15]), (1.24, [.3, .22, .16]),
           (1.26, [.32, .24, .18, .13]), (1.28, [.3, .24, .17]), (1.3, [.38, .27, .2]), (1.32, [.3, .24, .18]),
           (1.34, [.38, .3, .22]), (1.36, [.3, .25, .2]), (1.38, [.28, .22]), (1.4, [.3, .25]),
           (1.42, [.32, .26]), (1.44, [.3, .24, .19]), (1.46, [.34, .28]), (1.48, [.34, .3]), (1.5, [.28, .25]),
           (1.53, [.42, .36]), (1.55, [.38]), (1.58, [.37]), (1.6, [.36, .32]), (1.61, [.3, .28]),
           (1.65, [.39]), (1.7, [.33, .31])]

# ---------------- panel d: sigma_val vs Cn2/Cn0^2, trial 2 ----------------
sigma_d = [(0.002, [12, 9, 6.5, 4.5, 3, 2, 1.3, .8, .5, .3, .15, .06, .03]),
           (0.006, [11, 8, 5.5, 3.8, 2.6, 1.7, 1.1, .7, .4, .22, .1, .045, .0003, .00022]),
           (0.01, [10, 7, 4.8, 3.2, 2.2, 1.4, .9, .55, .3, .16, .07, .035, .016, .006]),
           (0.015, [7, 5, 3.4, 2.3, 1.5, 1, .6, .35, .2, .1, .05, .025, .012, .0055, .00021]),
           (0.02, [5.5, 4, 2.7, 1.8, 1.2, .75, .45, .25, .13, .07, .035, .0024, .0016]),
           (0.025, [4.5, 3.3, 2.2, 1.4, .9, .55, .32, .18, .1, .05, .021, .0085]),
           (0.03, [4, 2.8, 1.9, 1.2, .75, .45, .26, .14, .075, .04, .019, .006, .0032]),
           (0.04, [3.5, 2.4, 1.6, 1, .6, .35, .2, .11, .06, .03, .015, .0028]),
           (0.05, [2.5, 1.7, 1.1, .7, .42, .25, .14, .075, .04, .02, .0035, .0025]),
           (0.06, [2.3, 1.5, .95, .6, .36, .21, .12, .065, .035, .011, .0065, .00085]),
           (0.07, [1.6, 1.05, .68, .42, .25, .14, .08, .045, .025, .0045]),
           (0.08, [1.9, 1.2, .75, .45, .27, .16, .09, .05, .028, .014, .0046]),
           (0.09, [1.8, 1.1, .7, .42, .25, .15, .085, .045, .018, .0055]),
           (0.1, [1.9, 1.3, .8, .5, .3, .18, .1, .055, .03, .0125, .0028]),
           (0.11, [2.1, 1.4, .85, .52, .32, .19, .1, .055, .028, .008]),
           (0.12, [4, 3.5, 1.7, 1.1, .7, .42, .25, .14, .075, .04, .02, .0078, .0029, .00034]),
           (0.13, [1.4, .9, .55, .33, .2, .11, .06, .033, .017, .0064]),
           (0.14, [1.2, .75, .46, .28, .16, .09, .05, .027, .013, .0022]),
           (0.15, [.95, .6, .37, .22, .13, .07, .04, .021, .011, .002, .0001]),
           (0.16, [.85, .55, .34, .2, .12, .065, .035, .018, .0055]),
           (0.17, [.7, .45, .28, .17, .1, .055, .03, .016, .0095]),
           (0.18, [.6, .4, .25, .15, .09, .05, .027, .014, .005]),
           (0.19, [.55, .36, .22, .13, .075, .04, .021, .011]),
           (0.2, [.5, .33, .2, .12, .07, .038, .02, .01, .0035]),
           (0.21, [.45, .3, .18, .11, .065, .035, .018, .0065, .0015, .0009]),
           (0.22, [.5, .32, .2, .12, .07, .038, .02, .004]),
           (0.23, [.42, .28, .17, .1, .06, .033, .017, .009]),
           (0.24, [.4, .26, .16, .095, .055, .03, .015, .0045, .0011, .0007]),
           (0.25, [.45, .3, .18, .11, .065, .035, .018, .0075]),
           (0.26, [.48, .3, .18, 1.8, .11, .06, .032, .0095, .002]),
           (0.27, [.42, .27, .16, .1, .055, .03, .016, .0075]),
           (0.28, [.5, .32, .2, .12, .07, .04, .021, .0045]),
           (0.29, [.45, .29, .18, .11, .06, .034, .017, .0035]),
           (0.3, [.48, .31, .19, .11, .065, .035, .0075, .0029]),
           (0.31, [.42, .27, .16, .1, .055, .03, .016, .00075]),
           (0.32, [.4, .26, .16, .095, .055, .03, .015, .005]),
           (0.33, [.5, .32, .2, .12, .07, .038, .02, .008]),
           (0.34, [.45, .29, .18, .11, .06, .032, .017]),
           (0.35, [.4, .26, .16, .095, .055, .03, .015, .004]),
           (0.36, [.48, .31, .19, .11, .065, .036, .0095, .0055]),
           (0.37, [.45, .29, .18, .11, .06, .033, .018, .0014]),
           (0.38, [.4, .26, .16, .095, .055, .03, .012, .0017]),
           (0.39, [.35, .23, .14, .085, .05, .027, .014, .008]),
           (0.4, [.5, .3, .18, .1, .058, .031, .016, .0058, .00018]),
           (0.41, [.3, .2, .12, .072, .042, .023, .012]),
           (0.42, [.28, .18, .11, .065, .038, .021, .0075]),
           (0.43, [.3, .19, .12, .07, .04, .022, .011, .0055]),
           (0.44, [.32, .2, .12, .075, .043, .024, .013]),
           (0.45, [.75, .4, .26, .16, .095, .055, .03, .016, .0055, .0016]),
           (0.46, [.38, .24, .15, .09, .05, .028, .0085, .0016, .00055]),
           (0.47, [.35, .22, .14, .085, .048, .026, .014, .0017]),
           (0.48, [.3, .19, .12, .07, .04, .022, .0036, .0013, .00055]),
           (0.49, [.25, .16, .1, .06, .035, .019, .01]),
           (0.5, [.28, .18, .11, .065, .037, .02, .011]),
           (0.52, [.3, .19, .12, .07, .04, .022, .012, .004]),
           (0.54, [.35, .22, .13, .08, .045, .025, .013, .0065]),
           (0.56, [.3, .19, .12, .07, .04, .022, .011, .003]),
           (0.58, [.25, .16, .1, .06, .034, .019, .01, .0035]),
           (0.6, [.28, .18, .11, .065, .037, .02, .0065, .0014, .0012]),
           (0.62, [.22, .14, .085, .05, .028, .015, .0045, .00033, .0011]),
           (0.64, [.25, .16, .1, .06, .034, .018, .009, .0025]),
           (0.66, [.22, .14, .085, .05, .028, .015, .0075, .0021]),
           (0.68, [.2, .13, .08, .047, .026, .014, .007, .0015]),
           (0.7, [.24, .15, .09, .055, .03, .017, .0085, .0018]),
           (0.72, [.25, .16, .1, .06, .034, .018, .0035, .00095]),
           (0.74, [.3, .18, .11, .065, .037, .02, .0045, .0019, .00014, .0001]),
           (0.76, [.26, .16, .1, .06, .034, .018, .0095, .0035]),
           (0.78, [.3, .19, .12, .07, .04, .022, .011, .0026, .00019]),
           (0.8, [.22, .14, .085, .05, .028, .015, .0075, .002]),
           (0.82, [.25, .16, .1, .06, .034, .018, .009, .0038, .00018]),
           (0.84, [.27, .17, .11, .065, .037, .02, .0048, .00038, .00014]),
           (0.86, [.22, .15, .1, .065, .04, .024, .013, .0055, .0017]),
           (0.88, [.28, .2, .13, .085, .055, .032, .018, .0085, .0015, .00075]),
           (0.9, [.3, .22, .15, .1, .065, .04, .022, .011, .0045, .0011]),
           (0.91, [.26, .18, .12, .08, .05, .03, .016, .0075, .0013, .00018]),
           (0.92, [.28, .2, .14, .09, .06, .037, .02, .009, .003, .00033]),
           (0.93, [.25, .17, .12, .08, .05, .03, .016, .0065, .0006, .0007]),
           (0.94, [.27, .19, .13, .085, .055, .033, .018, .0085, .0015, .00027]),
           (0.95, [.22, .16, .11, .075, .048, .028, .014, .0045, .00015]),
           (0.96, [.25, .17, .12, .08, .05, .03, .015, .0055, .0015]),
           (0.97, [.2, .14, .1, .065, .04, .024, .012, .003]),
           (0.98, [.26, .18, .12, .08, .05, .03, .016, .0065, .00014]),
           (0.99, [.22, .15, .1, .068, .043, .026, .013, .005, .0011, .00038]),
           (1.0, [.28, .18, .12, .08, .05, .03, .015, .0055, .001, .002]),
           (1.01, [.2, .14, .095, .062, .04, .023, .011, .004, .0013]),
           (1.02, [.25, .16, .1, .065, .04, .022, .01, .0035, .0023]),
           (1.03, [.18, .12, .08, .052, .032, .018, .0085, .003, .00046, .0021]),
           (1.04, [.22, .14, .09, .055, .033, .018, .008, .0026]),
           (1.05, [.25, .15, .09, .055, .032, .017, .0075, .0012]),
           (1.06, [.16, .11, .07, .045, .027, .014, .006, .0022]),
           (1.07, [.15, .1, .065, .04, .024, .012, .005, .0015]),
           (1.08, [.14, .095, .06, .038, .022, .011, .0045, .00057, .00033]),
           (1.09, [.17, .11, .07, .042, .024, .012, .0035]),
           (1.1, [.16, .1, .065, .04, .022, .011, .005, .00095]),
           (1.11, [.15, .1, .06, .036, .02, .0095]), (1.12, [.13, .085, .055, .033, .018, .0085, .00092]),
           (1.13, [.12, .08, .05, .03, .016, .008]), (1.14, [.14, .09, .055, .032, .017, .008]),
           (1.15, [.12, .08, .05, .03, .016, .009]), (1.16, [.13, .085, .052, .03, .016, .01, .0035, .0019]),
           (1.17, [.12, .08, .05, .03, .018, .00046]), (1.18, [.1, .07, .045, .028, .015, .0096]),
           (1.19, [.11, .075, .05, .032, .0013]), (1.2, [.12, .08, .055, .036, .02, .006]),
           (1.22, [.11, .075, .05]), (1.24, [.15, .1, .07, .04]), (1.26, [.12, .09, .06]), (1.28, [.08, .06]),
           (1.3, [.15, .11, .08, .05]), (1.32, [.17, .12, .08, .06, .045]), (1.34, [.18, .13, .1, .06, .042]),
           (1.38, [.17, .1, .09]), (1.39, [.035, .028]), (1.4, [.12, .09]), (1.42, [.17, .08, .06]),
           (1.44, [.2, .12, .09]), (1.46, [.16, .12, .07]), (1.48, [.18, .13, .1]), (1.5, [.2, .15, .11]),
           (1.52, [.2, .15, .12]), (1.54, [.25, .18, .13, .1]), (1.55, [.16, .12])]
sigma_d_fill = [(0.004, [10, 7, 4.2, 2.9, 1.9, 1.25, .75, .45, .27, .16, .09, .05]),
                (0.008, [8.5, 5.2, 3.4, 2.3, 1.5, .95, .6, .34, .19, .11, .06, .025]),
                (0.013, [7.5, 5.5, 3.6, 2.5, 1.6, 1.05, .66, .4, .24, .13, .075, .04, .02]),
                (0.018, [6, 4.3, 2.8, 1.9, 1.25, .8, .48, .28, .155, .085, .043, .02]),
                (0.023, [4.8, 3.2, 2.1, 1.35, .88, .56, .34, .2, .11, .06, .03]),
                (0.028, [3.7, 2.5, 1.6, 1.0, .62, .38, .22, .12, .065, .033, .016]),
                (0.035, [3.2, 2.1, 1.35, .88, .55, .33, .19, .105, .055, .028, .012]),
                (0.045, [2.7, 1.9, 1.25, .78, .48, .28, .16, .09, .048, .026, .013]),
                (0.055, [2.0, 1.35, .86, .53, .32, .19, .105, .058, .031, .016]),
                (0.065, [1.75, 1.15, .74, .46, .28, .16, .09, .05, .027, .013]),
                (0.075, [1.35, .9, .56, .34, .2, .115, .065, .036, .018]),
                (0.085, [1.5, .95, .58, .35, .21, .12, .068, .038, .02]),
                (0.095, [1.45, .92, .57, .35, .21, .125, .07, .038, .021]),
                (0.105, [1.6, 1.05, .65, .4, .24, .14, .078, .042, .022]),
                (0.115, [1.6, 1.05, .66, .4, .24, .14, .078, .042, .02]),
                (0.125, [2.4, 1.3, .82, .5, .3, .18, .1, .055, .028, .013]),
                (0.135, [1.15, .7, .43, .26, .155, .088, .048, .026, .012]),
                (0.145, [.88, .56, .34, .2, .12, .068, .037, .019, .009]),
                (0.155, [.75, .47, .29, .17, .1, .055, .03, .016]),
                (0.165, [.62, .4, .245, .145, .085, .047, .026, .013]),
                (0.175, [.55, .35, .21, .13, .076, .042, .022, .012]),
                (0.185, [.48, .31, .19, .115, .066, .036, .019, .0095]),
                (0.195, [.44, .28, .17, .1, .058, .031, .016]),
                (0.215, [.38, .245, .15, .09, .053, .029, .015, .0075]),
                (0.235, [.36, .23, .14, .085, .05, .027, .014]),
                (0.255, [.38, .24, .145, .088, .051, .028, .014, .007]),
                (0.275, [.36, .23, .14, .085, .048, .026, .013]),
                (0.295, [.37, .24, .15, .088, .05, .027, .014, .006]),
                (0.315, [.34, .215, .13, .078, .044, .024, .012]),
                (0.335, [.4, .25, .155, .092, .052, .028, .014]),
                (0.355, [.35, .22, .135, .08, .046, .025, .013]),
                (0.375, [.36, .23, .14, .082, .046, .025, .012, .0055]),
                (0.395, [.3, .19, .115, .068, .039, .021, .011]),
                (0.415, [.24, .155, .095, .056, .032, .017, .0085]),
                (0.435, [.25, .16, .098, .058, .033, .018, .009]),
                (0.455, [.32, .21, .13, .077, .044, .024, .012, .0055]),
                (0.475, [.27, .17, .105, .062, .036, .019, .0095]),
                (0.51, [.23, .15, .092, .054, .031, .017, .0085]),
                (0.53, [.26, .165, .1, .06, .034, .018, .0095]),
                (0.55, [.26, .165, .1, .06, .034, .018, .0095]),
                (0.57, [.23, .145, .09, .053, .03, .016, .008]),
                (0.59, [.21, .135, .083, .049, .028, .015, .0075]),
                (0.61, [.2, .13, .08, .047, .026, .014, .0065]),
                (0.63, [.19, .12, .075, .044, .025, .013]),
                (0.65, [.19, .12, .075, .044, .025, .013, .0065]),
                (0.67, [.17, .11, .067, .039, .022, .011]),
                (0.69, [.18, .11, .068, .04, .022, .012, .006]),
                (0.71, [.2, .125, .077, .046, .026, .014]),
                (0.73, [.21, .135, .083, .049, .028, .015, .0075]),
                (0.75, [.22, .135, .083, .049, .028, .015]),
                (0.77, [.23, .145, .09, .052, .029, .016, .008]),
                (0.79, [.2, .13, .08, .047, .026, .014]),
                (0.81, [.18, .12, .073, .043, .024, .013, .0065]),
                (0.83, [.21, .13, .082, .048, .027, .015]),
                (0.85, [.2, .135, .088, .054, .032, .017, .0085, .004]),
                (0.87, [.21, .15, .098, .062, .038, .022, .012, .0055]),
                (0.885, [.22, .16, .105, .07, .044, .026, .014, .007]),
                (0.895, [.25, .175, .115, .077, .048, .029, .016, .008, .0032]),
                (0.905, [.24, .165, .11, .073, .046, .028, .015, .0075]),
                (0.915, [.23, .16, .105, .07, .044, .026, .014, .0065, .0028]),
                (0.925, [.22, .155, .1, .068, .043, .026, .014, .006]),
                (0.935, [.21, .15, .1, .066, .042, .025, .013, .006, .0024]),
                (0.945, [.21, .145, .097, .064, .041, .024, .0125, .0055]),
                (0.955, [.2, .14, .093, .062, .039, .023, .012, .0048]),
                (0.965, [.19, .13, .088, .058, .036, .021, .011, .004]),
                (0.975, [.19, .13, .088, .058, .036, .021, .011, .004]),
                (0.985, [.2, .135, .09, .058, .037, .022, .011, .0044]),
                (0.995, [.2, .14, .09, .059, .037, .022, .011, .0044, .0018]),
                (1.005, [.2, .13, .085, .056, .036, .021, .0105, .004, .0015]),
                (1.015, [.19, .125, .08, .051, .032, .018, .009, .0032]),
                (1.025, [.17, .115, .073, .047, .029, .016, .0076, .0028, .0013]),
                (1.035, [.16, .105, .068, .043, .026, .0145, .0068, .0022]),
                (1.045, [.18, .115, .072, .044, .026, .0145, .0062, .002]),
                (1.055, [.16, .105, .064, .04, .024, .013, .0056, .0018]),
                (1.065, [.125, .085, .055, .034, .021, .0105, .0044, .0015]),
                (1.075, [.12, .078, .05, .031, .018, .0092, .0038]),
                (1.085, [.125, .08, .052, .032, .018, .0092, .0032]),
                (1.095, [.13, .085, .054, .033, .018, .0092]),
                (1.105, [.125, .08, .05, .03, .017, .0084]),
                (1.125, [.1, .066, .042, .026, .0135, .0066]),
                (1.145, [.105, .068, .042, .025, .0135, .0068]),
                (1.165, [.1, .066, .041, .024, .0135, .0078]),
                (1.185, [.085, .058, .038, .024, .013]),
                (1.21, [.095, .064, .043, .028])]

# ---------------- tick values ----------------
ticks_a_x = list(range(0, 20001, 1250))
major_a_x = list(range(0, 20001, 2500))
ticks_c_x = list(range(0, 100001, 5000))
major_c_x = list(range(0, 100001, 10000))
ticks_a_y = [round(i * 0.2, 1) for i in range(11)]
major_a_y = [round(i * 0.4, 1) for i in range(6)]
ticks_c_y = [round(i * 0.1, 1) for i in range(17)]
major_c_y = [round(i * 0.2, 1) for i in range(9)]
ticks_b_x = [round(i * 0.1, 1) for i in range(19)]
ticks_d_x = [round(i * 0.1, 1) for i in range(17)]
decades = [1e-4, 1e-3, 1e-2, 1e-1, 1, 10, 100]
ticks_log = [round(k * 10.0 ** e, 10) for e in range(-4, 2) for k in range(1, 10)] + [100]

W = 1436
H_TOP = 954
H_BOT = 964
RED = "#ff0000"
INK = "#000000"
AXC = "#3c3c3c"
SANS = "Liberation Sans"
SERIF = "Liberation Serif"
MAJ, MIN = 48, 25


def points(cols, spread):
    # the values of one column are spread evenly across its bin
    rows = []
    for x, ys in cols:
        n = len(ys)
        for i, y in enumerate(ys):
            rows.append((x + (i + 0.5 - n / 2) * spread / n, y))
    return pd.DataFrame(rows, columns=["x", "y"])


def lines(*segs):
    rows = [(x, y, i) for i, seg in enumerate(segs) for x, y in seg]
    return pd.DataFrame(rows, columns=["x", "y", "seg"])


def axis(values, expr, pad):
    return alt.Axis(values=values, labelExpr=expr, tickSize=MIN, labelPadding=pad,
                    labelOverlap=False, labelFlush=False, title=None, grid=False)


def major_x(X, vals, H):
    return alt.Chart(pd.DataFrame({"x": vals})).mark_rule(color=AXC, strokeWidth=2.5).encode(
        x=X, y=alt.value(H), y2=alt.value(H + MAJ))


def major_y(Y, vals):
    return alt.Chart(pd.DataFrame({"y": vals})).mark_rule(color=AXC, strokeWidth=2.5).encode(
        y=Y, x=alt.value(-MAJ), x2=alt.value(0))


def ptext(txt, px, py, size, font=SERIF, color=INK, align="left"):
    return alt.Chart(pd.DataFrame({"t": [txt]})).mark_text(
        text=txt, font=font, fontStyle="italic", fontSize=size, color=color,
        align=align, baseline="alphabetic").encode(x=alt.value(px), y=alt.value(py))


def cn_label(px, py, s):
    parts = [("C", 0, 0, 1), ("2", 0.8, -0.4, 0.56), ("n", 0.66, 0.34, 0.56), ("/", 1.3, 0, 0.9),
             ("C", 2.0, 0, 1), ("2", 2.84, -0.4, 0.56), ("n,0", 2.66, 0.34, 0.56)]
    return [ptext(t, px + dx * s, py + dy * s, s * k) for t, dx, dy, k in parts]


def sigma_label():
    return [ptext("\u03c3", 28, 54, 60), ptext("val", 70, 70, 32)]


def letter_box(letter):
    box = alt.Chart(pd.DataFrame({"t": [letter]})).mark_rect(
        fill="white", stroke="#666666", strokeWidth=2).encode(
        x=alt.value(W - 62), x2=alt.value(W), y=alt.value(14), y2=alt.value(62))
    return [box, ptext(letter, W - 31, 52, 50, align="center")]


def notes(X, Y, rows):
    df = pd.DataFrame(rows, columns=["x", "y", "t", "c"])
    return alt.Chart(df).mark_text(font=SANS, fontStyle="italic", fontSize=50, baseline="middle").encode(
        x=X, y=Y, text="t:N", color=alt.Color("c:N", scale=None))


def arrows(X, Y, rows, xr, yr, H):
    shafts, heads = [], []
    for x0, y0, x1, y1, c in rows:
        dx = (x1 - x0) / (xr[1] - xr[0]) * W
        dy = -(y1 - y0) / (yr[1] - yr[0]) * H
        ang = math.degrees(math.atan2(dx, -dy)) % 360
        shafts.append(dict(x=x0, y=y0, x2=x1, y2=y1, c=c))
        heads.append(dict(x=x1, y=y1, c=c, a=ang))
    shaft = alt.Chart(pd.DataFrame(shafts)).mark_rule(strokeWidth=3).encode(
        x=X, y=Y, x2="x2:Q", y2="y2:Q", color=alt.Color("c:N", scale=None))
    head = alt.Chart(pd.DataFrame(heads)).mark_point(shape="triangle-up", filled=True, size=420, opacity=1).encode(
        x=X, y=Y, angle=alt.Angle("a:Q", scale=None), color=alt.Color("c:N", scale=None))
    return [shaft, head]


def dashed(X, vals):
    return alt.Chart(pd.DataFrame({"x": vals})).mark_rule(
        color="#222222", strokeWidth=2, strokeDash=[8, 6]).encode(x=X)


def circles(df, X, Y, size, sw, shape="circle"):
    return alt.Chart(df).mark_point(
        shape=shape, filled=False, size=size, strokeWidth=sw, color=INK, opacity=0.9).encode(x=X, y=Y)


X_PAD = MAJ - MIN + 14
Y_PAD = MAJ - MIN + 10
lab_y_04 = "abs(datum.value / 0.4 - round(datum.value / 0.4)) < 0.001 ? format(datum.value, '.1f') : ''"
lab_y_02 = "abs(datum.value / 0.2 - round(datum.value / 0.2)) < 0.001 ? format(datum.value, '.1f') : ''"
lab_log = ("abs(log(datum.value) / LN10 - round(log(datum.value) / LN10)) > 0.01 ? '' : "
           "datum.value > 50 ? '100' : datum.value > 5 ? '10' : datum.value > 0.5 ? '1' : "
           "datum.value > 0.05 ? '10\u207b\u00b9' : datum.value > 0.005 ? '10\u207b\u00b2' : "
           "datum.value > 0.0005 ? '10\u207b\u00b3' : '10\u207b\u2074'")

# ---------------- panel a ----------------
xr_a, yr_a = [0, 20000], [0, 2.0]
Xa = alt.X("x:Q", scale=alt.Scale(domain=xr_a, nice=False, zero=False), axis=axis(
    ticks_a_x, "datum.value % 2500 != 0 || datum.value == 17500 ? '' : "
               "(datum.value == 0 ? '0.0' : format(datum.value / 1000, '.1f') + 'K')", X_PAD))
Ya = alt.Y("y:Q", scale=alt.Scale(domain=yr_a, nice=False, zero=False), axis=axis(ticks_a_y, lab_y_04, Y_PAD))
pts_a = pd.concat([points(pred_1a, 150), points(pred_1b, 200), points(pred_1c, 100)])
panel_a = alt.layer(
    major_x(Xa, major_a_x, H_TOP), major_y(Ya, major_a_y),
    dashed(Xa, trial1_edges),
    circles(pts_a, Xa, Ya, 95, 2.3),
    alt.Chart(lines(meas_1ab, meas_1c)).mark_line(color=RED, strokeWidth=4).encode(
        x=Xa, y=Ya, detail="seg:N"),
    notes(Xa, Ya, [(1880, 1.70, "Trial 1A", INK), (8000, 1.70, "Trial 1B", INK), (17350, 1.70, "Trial 1C", INK),
                   (7050, 0.518, "Measurements", RED), (1950, 0.06, "Prediction", INK),
                   (7100, 0.30, "Prediction", INK), (16650, 0.552, "Prediction", INK),
                   (17350, 0.425, "Measurements", RED)]),
    *arrows(Xa, Ya, [(4210, .508, 3480, .389, RED), (2120, .11, 2630, .176, INK), (6760, .26, 6760, .183, INK),
                     (15980, .615, 16230, .73, INK), (14930, .455, 14350, .50, RED)], xr_a, yr_a, H_TOP),
    *cn_label(24, 75, 50),
    ptext("m", 17500 / 20000 * W, H_TOP + 98, 56, align="center"),
    *letter_box("a"),
).properties(width=W, height=H_TOP)

# ---------------- panel c ----------------
xr_c, yr_c = [0, 100000], [0, 1.6]
Xc = alt.X("x:Q", scale=alt.Scale(domain=xr_c, nice=False, zero=False), axis=axis(
    ticks_c_x, "datum.value % 10000 != 0 || datum.value == 90000 ? '' : "
               "(datum.value == 0 ? '0' : format(datum.value / 1000, 'd') + 'K')", X_PAD))
Yc = alt.Y("y:Q", scale=alt.Scale(domain=yr_c, nice=False, zero=False), axis=axis(ticks_c_y, lab_y_02, Y_PAD))
pts_c = pd.concat([points(c, 250) for c in (pred_2a, pred_2a_fill, pred_2b, pred_2b_fill)])
panel_c = alt.layer(
    major_x(Xc, major_c_x, H_TOP), major_y(Yc, major_c_y),
    dashed(Xc, trial2_edges),
    circles(pts_c, Xc, Yc, 75, 2.2),
    alt.Chart(lines(meas_2a, meas_2b)).mark_line(color=RED, strokeWidth=4.5).encode(
        x=Xc, y=Yc, detail="seg:N"),
    notes(Xc, Yc, [(33300, 1.36, "Trial 2A", INK), (79100, 1.36, "Trial 2B", INK),
                   (14900, 0.356, "Measurements", RED), (45100, 0.89, "Prediction", INK),
                   (46200, 0.44, "Prediction", INK), (87800, 0.905, "Measurements", RED)]),
    *arrows(Xc, Yc, [(20600, .403, 24900, .457, RED), (50800, .851, 54700, .779, INK),
                     (45500, .385, 49000, .29, INK), (75300, .923, 70700, .958, RED)], xr_c, yr_c, H_TOP),
    *cn_label(24, 75, 50),
    ptext("n", 90000 / 100000 * W, H_TOP + 98, 56, align="center"),
    *letter_box("c"),
).properties(width=W, height=H_TOP)

# ---------------- panel b ----------------
yr_log = [1e-4, 100]
Xb = alt.X("x:Q", scale=alt.Scale(domain=[0, 1.8], nice=False, zero=False), axis=axis(
    ticks_b_x, "abs(datum.value / 0.2 - round(datum.value / 0.2)) > 0.001 || abs(datum.value - 1.6) < 0.001"
               " ? '' : format(datum.value, '.1f')", X_PAD))
Yb = alt.Y("y:Q", scale=alt.Scale(type="log", domain=yr_log, nice=False), axis=axis(ticks_log, lab_log, Y_PAD))
panel_b = alt.layer(
    major_x(Xb, major_c_y, H_BOT), major_y(Yb, decades),
    circles(points(sigma_b, 0.004), Xb, Yb, 100, 2.4),
    *sigma_label(),
    *cn_label(1.505 / 1.8 * W, H_BOT + 95, 56),
    *letter_box("b"),
).properties(width=W, height=H_BOT)

# ---------------- panel d ----------------
Xd = alt.X("x:Q", scale=alt.Scale(domain=[0, 1.6], nice=False, zero=False), axis=axis(
    ticks_d_x, "abs(datum.value / 0.2 - round(datum.value / 0.2)) > 0.001 || abs(datum.value - 1.4) < 0.001"
               " ? '' : format(datum.value, '.1f')", X_PAD))
Yd = alt.Y("y:Q", scale=alt.Scale(type="log", domain=yr_log, nice=False), axis=axis(ticks_log, lab_log, Y_PAD))
pts_d = pd.concat([points(sigma_d, 0.008), points(sigma_d_fill, 0.008)])
panel_d = alt.layer(
    major_x(Xd, major_c_y, H_BOT), major_y(Yd, decades),
    circles(pts_d, Xd, Yd, 70, 2.2, shape="square"),
    *sigma_label(),
    *cn_label(1.315 / 1.6 * W, H_BOT + 95, 56),
    *letter_box("d"),
).properties(width=W, height=H_BOT)

chart = alt.concat(
    panel_a, panel_c, panel_b, panel_d, columns=2,
    spacing={"row": 182, "column": 240}, bounds="flush",
).properties(
    padding={"left": 60, "top": 17, "right": 10, "bottom": 10}
).configure_view(
    stroke="#8a8a8a", strokeWidth=2
).configure_axis(
    labelFont=SANS, labelFontSize=48, labelColor="#111111",
    domainColor=AXC, domainWidth=3, tickColor=AXC, tickWidth=2.5
)

chart.save("out.html", embed_options={"renderer": "svg", "actions": False})
